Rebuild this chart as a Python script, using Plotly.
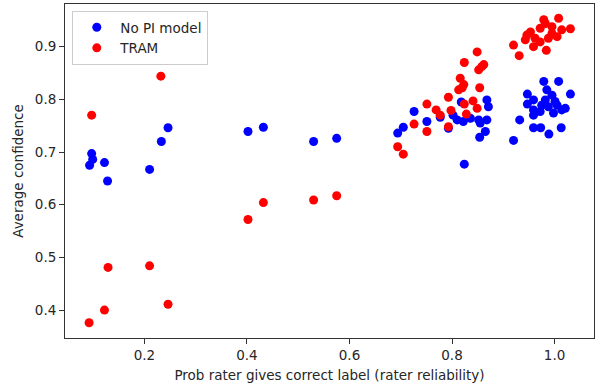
import plotly.graph_objects as go

# No PI model (blue)
nopi_x = [0.097, 0.099, 0.093, 0.122, 0.128, 0.210, 0.233, 0.246, 0.402, 0.432, 0.530, 0.575,
          0.694, 0.705, 0.726, 0.751, 0.777, 0.793, 0.802, 0.810, 0.818, 0.822, 0.836, 0.852,
          0.854, 0.865, 0.868, 0.868, 0.871, 0.855, 0.824,
          0.920, 0.932, 0.947, 0.947, 0.959, 0.959, 0.959, 0.959, 0.972, 0.973, 0.975, 0.979,
          0.982, 0.985, 0.988, 0.989, 0.995, 0.998, 1.001, 1.005, 1.008, 1.013, 1.014, 1.021, 1.031]
nopi_y = [0.697, 0.686, 0.675, 0.680, 0.645, 0.667, 0.720, 0.746, 0.739, 0.747, 0.720, 0.726,
          0.736, 0.747, 0.777, 0.758, 0.766, 0.745, 0.770, 0.761, 0.795, 0.758, 0.764, 0.761,
          0.728, 0.739, 0.799, 0.761, 0.786, 0.755, 0.677,
          0.722, 0.761, 0.810, 0.791, 0.799, 0.780, 0.770, 0.746, 0.777, 0.746, 0.789, 0.834,
          0.799, 0.818, 0.786, 0.734, 0.808, 0.774, 0.796, 0.789, 0.834, 0.746, 0.780, 0.783, 0.810]

# TRAM (red)
tram_x = [0.092, 0.097, 0.122, 0.129, 0.210, 0.232, 0.246, 0.402, 0.432, 0.530, 0.575,
          0.694, 0.705, 0.726, 0.751, 0.751, 0.769, 0.777, 0.793, 0.793, 0.798, 0.813, 0.820,
          0.823, 0.816, 0.824, 0.824, 0.828, 0.841, 0.849, 0.849, 0.854, 0.858, 0.852, 0.862,
          0.920, 0.931, 0.943, 0.946, 0.953, 0.959, 0.962, 0.972, 0.972, 0.979, 0.982, 0.984,
          0.988, 0.995, 0.995, 1.005, 1.008, 1.014, 1.031]
tram_y = [0.376, 0.770, 0.400, 0.481, 0.484, 0.844, 0.411, 0.572, 0.604, 0.609, 0.617,
          0.710, 0.696, 0.753, 0.791, 0.739, 0.780, 0.770, 0.804, 0.748, 0.779, 0.818, 0.822,
          0.828, 0.840, 0.870, 0.791, 0.772, 0.797, 0.783, 0.890, 0.822, 0.862, 0.856, 0.866,
          0.903, 0.883, 0.913, 0.922, 0.928, 0.900, 0.916, 0.935, 0.909, 0.951, 0.944, 0.893,
          0.916, 0.925, 0.938, 0.919, 0.954, 0.932, 0.934]

x_ticks = [0.2, 0.4, 0.6, 0.8, 1.0]
y_ticks = [0.4, 0.5, 0.6, 0.7, 0.8, 0.9]

FONT = "DejaVu Sans"
TXT = "#262626"

fig = go.Figure()
fig.add_trace(go.Scatter(x=nopi_x, y=nopi_y, mode="markers", name="No PI model",
                         marker=dict(color="blue", size=9, line=dict(width=0))))
fig.add_trace(go.Scatter(x=tram_x, y=tram_y, mode="markers", name="TRAM",
                         marker=dict(color="red", size=9, line=dict(width=0))))

axis_common = dict(showline=True, mirror=True, linecolor="#333", linewidth=1,
                   ticks="outside", ticklen=5, tickwidth=1, tickcolor="#333",
                   showgrid=False, zeroline=False, tickformat=".1f",
                   tickfont=dict(family=FONT, size=13.5, color=TXT))

fig.update_layout(
    width=599, height=385,
    margin=dict(l=65, r=5, t=4, b=47, autoexpand=False),
    paper_bgcolor="white", plot_bgcolor="white",
    font=dict(family=FONT, size=13.5, color=TXT),
    xaxis=dict(range=[0.045, 1.077], tickvals=x_ticks,
               title=dict(text="Prob rater gives correct label (rater reliability)",
                          font=dict(family=FONT, size=13.5, color=TXT), standoff=8),
               automargin=False, **axis_common),
    yaxis=dict(range=[0.347, 0.981], tickvals=y_ticks,
               title=dict(text="Average confidence",
                          font=dict(family=FONT, size=13.5, color=TXT), standoff=8),
               automargin=False, **axis_common),
    legend=dict(x=0.0138, y=0.979, xanchor="left", yanchor="top",
                bgcolor="white", bordercolor="#cccccc", borderwidth=1,
                font=dict(family=FONT, size=13.5, color=TXT),
                itemwidth=37, tracegroupgap=0),
    showlegend=True,
)

fig.write_html("out.html", config={"displayModeBar": False},
               post_script="document.body.style.margin='0';document.body.style.overflow='hidden';")
